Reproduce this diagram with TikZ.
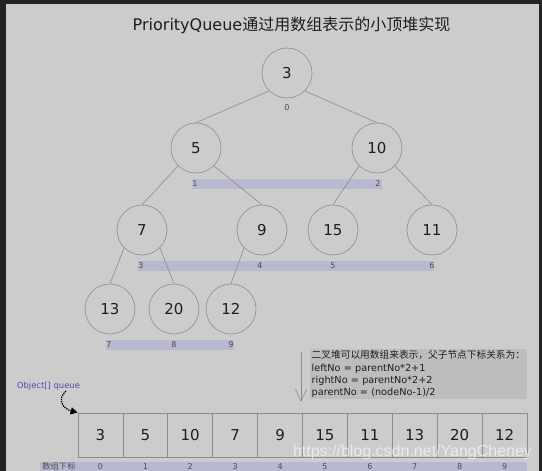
\documentclass[tikz,border=0pt]{standalone}
\usepackage{fontspec}
\setmainfont{DejaVu Sans}
\newfontfamily\cjk{Noto Sans CJK SC}
\newfontfamily\wmfont{Liberation Sans}
\usetikzlibrary{arrows.meta}
\definecolor{bgc}{HTML}{CCCCCC}
\definecolor{darkc}{HTML}{232323}
\definecolor{linec}{HTML}{8C8C8C}
\definecolor{barc}{HTML}{B8B8D2}
\definecolor{boxc}{HTML}{BDBDBD}
\definecolor{txtc}{HTML}{1E1E1E}
\definecolor{bluec}{HTML}{4B4BB4}
\begin{document}
\begin{tikzpicture}[x=1pt,y=-1pt,
  hnode/.style={circle,draw=linec,line width=0.6pt,fill=bgc,minimum size=50pt,inner sep=0pt,text=txtc,font=\fontsize{15}{15}\selectfont},
  cellbox/.style={rectangle,draw=linec,line width=0.7pt,fill=bgc,minimum width=44.9pt,minimum height=44pt,inner sep=0pt,text=txtc,font=\fontsize{15}{15}\selectfont},
  idx/.style={inner sep=0pt,text=txtc!80,font=\fontsize{8}{8}\selectfont},
  edge/.style={draw=linec,line width=0.6pt}]
\useasboundingbox (0,0) rectangle (542,471);
\fill[darkc] (0,0) rectangle (542,471);
\fill[bgc] (6,4) rectangle (539,475);
% title
\node[text=txtc,inner sep=0pt] (title) at (291.5,25) {\fontsize{16}{16}\selectfont PriorityQueue{\cjk 通过用数组表示的小顶堆实现}};
% index bars
\fill[barc] (192,179) rectangle (382,189);
\fill[barc] (138,261) rectangle (434,271);
\fill[barc] (106,340) rectangle (234,350);
\fill[barc] (40,462) rectangle (527,475);
% heap nodes
\node[hnode] (n0) at (287,73) {3};
\node[hnode] (n1) at (196,148) {5};
\node[hnode] (n2) at (377,148) {10};
\node[hnode] (n3) at (142,230) {7};
\node[hnode] (n4) at (262,230) {9};
\node[hnode] (n5) at (333,230) {15};
\node[hnode] (n6) at (432,230) {11};
\node[hnode] (n7) at (110,309) {13};
\node[hnode] (n8) at (174,309) {20};
\node[hnode] (n9) at (231,309) {12};
% edges
\draw[edge] (n0.-135) -- (n1.north);
\draw[edge] (n0.-45) -- (n2.north);
\draw[edge] (n1.-135) -- (n3.north);
\draw[edge] (n1.-45) -- (n4.north);
\draw[edge] (n2.-135) -- (n5.north);
\draw[edge] (n2.-45) -- (n6.north);
\draw[edge] (n3.-135) -- (n7.north);
\draw[edge] (n3.-45) -- (n8.north);
\draw[edge] (n4.-135) -- (n9.north);
% index labels
\node[idx] (i0) at (287,108) {0};
\node[idx] (i1) at (195,184) {1};
\node[idx] (i2) at (378,184) {2};
\node[idx] (i3) at (141,266) {3};
\node[idx] (i4) at (260,266) {4};
\node[idx] (i5) at (333,266) {5};
\node[idx] (i6) at (432,266) {6};
\node[idx] (i7) at (109,345) {7};
\node[idx] (i8) at (174,345) {8};
\node[idx] (i9) at (231,345) {9};
% array
\foreach \v [count=\i from 0] in {3,5,10,7,9,15,11,13,20,12}{
  \node[cellbox] (c\i) at ({78+44.9*(\i+0.5)},435) {\v};
  \node[idx] (a\i) at ({78+44.9*(\i+0.5)},466.5) {\i};
}
\node[idx,font=\cjk\fontsize{8.3}{8.3}\selectfont] (lbl) at (59,466.5) {数组下标};
% object label and dotted arrow
\node[text=bluec,inner sep=0pt,font=\fontsize{8.4}{8.4}\selectfont] (obj) at (48.5,386) {Object[] queue};
\draw[densely dotted,line width=1.3pt,-{Triangle[length=7pt,width=7pt]}] (66,391) .. controls (56,400) and (64,409) .. (c0.north west);
% annotation
\node[anchor=north west,fill=boxc,minimum width=217pt,minimum height=50pt,text width=214pt,align=left,inner sep=1.5pt,text=txtc,font=\fontsize{9.7}{12.3}\selectfont] (note) at (310,349) {{\cjk 二叉堆可以用数组来表示，父子节点下标关系为：}\\leftNo = parentNo*2+1\\rightNo = parentNo*2+2\\parentNo = (nodeNo-1)/2};
\coordinate (va) at (301,352);
\coordinate (vb) at (301,402);
\draw[draw=linec,line width=0.6pt,-{Straight Barb[length=12pt,width=11pt]}] (va) -- (vb);
% watermark
\node[text=white,opacity=0.6,inner sep=0pt,font=\wmfont\fontsize{16}{16}\selectfont] (wm) at (412.5,452) {https://blog.csdn.net/YangCheney};
\end{tikzpicture}
\end{document}
